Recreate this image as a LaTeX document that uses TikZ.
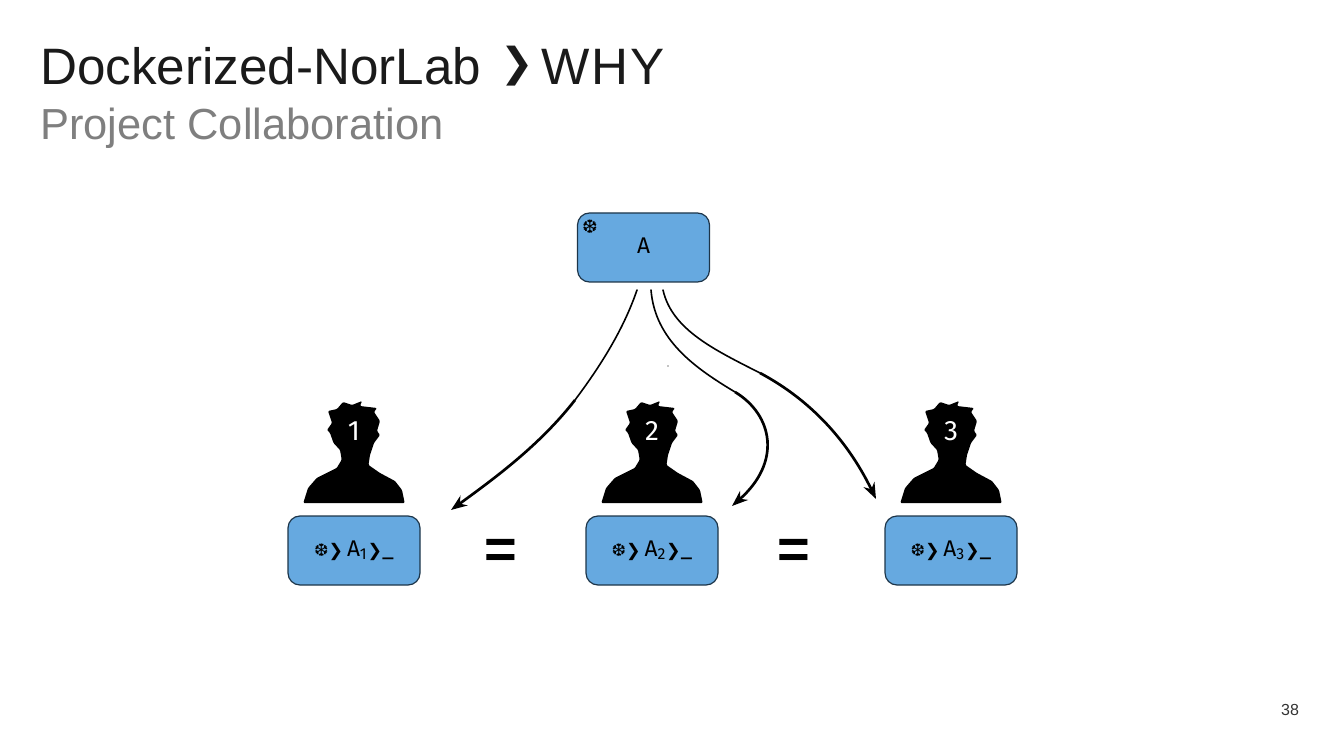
\documentclass[tikz,border=0pt]{standalone}
\usepackage{fontspec}
\setmainfont{Liberation Sans}
\newfontfamily\boxfont{Fira Sans}
\newfontfamily\symfont{DejaVu Sans}
\usetikzlibrary{arrows.meta}
\definecolor{boxblue}{HTML}{66A9E0}
\definecolor{boxedge}{HTML}{1D3549}
\definecolor{subgray}{HTML}{7F7F7F}
\definecolor{ttlblack}{HTML}{1A1A1A}
\tikzset{
  imgbox/.style={draw=boxedge, line width=0.9pt, rounded corners=9pt, fill=boxblue, minimum width=99pt, minimum height=51.75pt, inner sep=0pt, font=\boxfont\fontsize{17}{20}\selectfont},
  arr/.style={-{Stealth[length=12pt,width=9pt]}, line width=2pt, black},
  arrthin/.style={line width=1.2pt, line cap=round, black},
  num/.style={font=\boxfont\fontsize{21}{24}\selectfont, text=white, inner sep=0pt},
  eqn/.style={font=\bfseries\fontsize{42}{46}\selectfont, inner sep=0pt},
  ttl/.style={anchor=base west, inner sep=0pt, text=ttlblack},
  pics/person/.style={code={
    \fill[black, yscale=-1, rounded corners=0.8pt] (-50.7,0) -- (-46,15) -- (-37.3,25) -- (-17.3,35) -- (-12.3,43.3) -- (-14,53) -- (-20.5,60) -- (-24,70) -- (-27,73) -- (-22,80) -- (-26,92) -- (-17,94) -- (-11,101) -- (-2,98) -- (8,102) -- (6,97) -- (23,95) -- (20,91) -- (26,82) -- (23,72) -- (26,68) -- (20,60) -- (16,48) -- (14.5,38) -- (26,30) -- (41,22) -- (48,13) -- (50.7,0) -- cycle;
  }},
}
\newcommand{\prompt}[1]{{\symfont\fontsize{13}{16}\selectfont ❆❯}\,A\textsubscript{#1}{\symfont\fontsize{13}{16}\selectfont ❯}\_}
\begin{document}
\begin{tikzpicture}[x=0.75pt,y=-0.75pt]
\useasboundingbox (0,0) rectangle (1330,748);
% title
\node[ttl, font=\fontsize{38.4}{40}\selectfont] (title) at (40,85) {Dockerized-NorLab};
\node[ttl, font=\symfont\fontsize{30}{34}\selectfont] (sep) at (500,77) {❯};
\node[ttl, font=\fontsize{38.4}{40}\selectfont] (why) at (541,85) {W\kern1.6pt H\kern1.6pt Y};
\node[ttl, font=\fontsize{32.6}{36}\selectfont, text=subgray] (subtitle) at (40,140) {Project Collaboration};
\node[font=\fontsize{12}{14}\selectfont, text=black!80] (page) at (1290,710) {38};
% source
\node[imgbox] (boxA) at (643.5,247.5) {\raisebox{2pt}{A}};
\node[font=\symfont\fontsize{14}{16}\selectfont, inner sep=0pt] (flake) at (590,227) {❆};
% users
\pic at (354,503) {person};
\pic at (652,503) {person};
\pic at (951,503) {person};
\node[num] (user1) at (354,431) {1};
\node[num] (user2) at (652,431) {2};
\node[num] (user3) at (951,431) {3};
\node[imgbox] (boxA1) at (354,550.5) {\prompt{1}};
\node[imgbox] (boxA2) at (652,550.5) {\prompt{2}};
\node[imgbox] (boxA3) at (951,550.5) {\prompt{3}};
\node[eqn] (eq1) at (501,554) {=};
\node[eqn] (eq2) at (794,554) {=};
% arrows
\coordinate (out1) at (637,290);
\coordinate (out2) at (651,290);
\coordinate (out3) at (663,290);
\coordinate (mid1) at (575,400);
\coordinate (mid2) at (735,392);
\coordinate (mid3) at (760,373);
\coordinate (in1) at (451,510);
\coordinate (in2) at (732,506);
\coordinate (in3) at (876,499);
\draw[arrthin] (out1) .. controls (625,325) and (605,360) .. (mid1);
\draw[arr] (mid1) .. controls (540,445) and (495,478) .. (in1);
\draw[arrthin] (out2) .. controls (655,340) and (695,368) .. (mid2);
\draw[arr] (mid2) .. controls (773,415) and (782,462) .. (in2);
\draw[arrthin] (out3) .. controls (672,330) and (715,350) .. (mid3);
\draw[arr] (mid3) .. controls (805,397) and (845,435) .. (in3);
\fill (668,366) circle (0.6);
\end{tikzpicture}
\end{document}
